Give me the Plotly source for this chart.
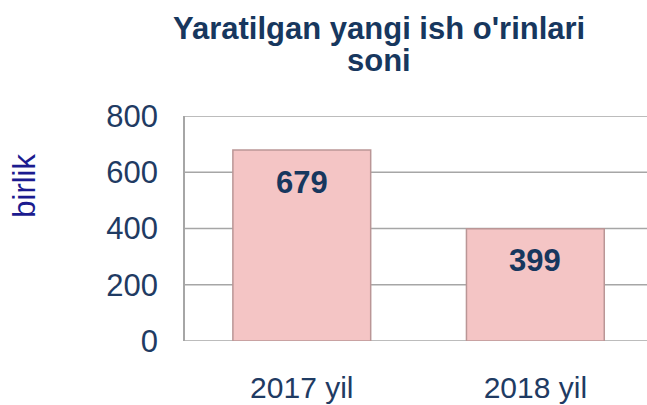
import plotly.graph_objects as go

# dados do gráfico
anos = ['2017 yil', '2018 yil']
ish_orinlari = [679, 399]
eixo_y_ticks = [0, 200, 400, 600, 800]
titulo_linhas = ["Yaratilgan yangi ish o'rinlari", 'soni']

cor_texto = '#1F3B63'
cor_titulo = '#17375E'
cor_grade = '#A6A6A6'
fonte = 'Liberation Sans, Arial'

fig = go.Figure()

# barras rosadas com borda levemente escura
fig.add_trace(go.Bar(
    x=anos, y=ish_orinlari, width=0.59,
    marker=dict(color='#F4C5C5', line=dict(color='#BA9696', width=1.5)),
    showlegend=False, hoverinfo='skip'
))

# linhas de grade como shapes, ocupando toda a largura da área do gráfico
for valor_tick in eixo_y_ticks:
    fig.add_shape(type='line', xref='paper', yref='y', x0=0, x1=1,
                  y0=valor_tick, y1=valor_tick, layer='below',
                  line=dict(color=cor_grade, width=1.5))

# valores dentro da barra, perto do topo
for ano, valor in zip(anos, ish_orinlari):
    fig.add_annotation(
        x=ano, y=valor, yshift=-32, showarrow=False,
        text='<b>%d</b>' % valor,
        font=dict(family=fonte, size=31, color=cor_titulo)
    )

# título em duas linhas (anotações para controlar o espaçamento)
for linha, pos_y in zip(titulo_linhas, [1.391, 1.245]):
    fig.add_annotation(
        x=0.42, y=pos_y, xref='paper', yref='paper', showarrow=False,
        xanchor='center', yanchor='middle',
        text='<b>%s</b>' % linha,
        font=dict(family=fonte, size=31, color=cor_titulo)
    )

# rótulo do eixo y (birlik)
fig.add_annotation(
    x=-0.348, y=0.691, xref='paper', yref='paper', showarrow=False,
    xanchor='center', yanchor='middle',
    text='birlik', textangle=-90,
    font=dict(family=fonte, size=31, color='#1B1B8F')
)

fig.update_layout(
    width=647, height=405,
    margin=dict(l=185, r=0, t=116, b=64),
    paper_bgcolor='white', plot_bgcolor='white',
    font=dict(family=fonte, color=cor_texto),
    xaxis=dict(
        range=[-0.5, 1.478], showgrid=False, showline=False,
        tickfont=dict(size=30, color=cor_texto), ticklabelstandoff=26
    ),
    yaxis=dict(
        range=[0, 800], tickvals=eixo_y_ticks,
        showgrid=False, zeroline=False,
        showline=True, linecolor=cor_grade, linewidth=1.5,
        tickfont=dict(size=31, color=cor_texto), ticklabelstandoff=19
    )
)

# remove margem e barras de rolagem da página
fig.write_html('out.html', config={'displayModeBar': False},
               post_script="document.body.style.margin='0';"
                           "document.body.style.overflow='hidden';"
                           "document.documentElement.style.overflow='hidden';")
